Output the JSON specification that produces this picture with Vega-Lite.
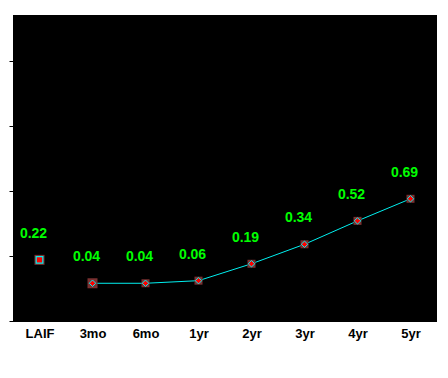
{
  "$schema": "https://vega.github.io/schema/vega-lite/v6.json",
  "width": 424,
  "height": 307,
  "autosize": {"type": "none"},
  "padding": {"left": 13, "top": 15, "right": 11, "bottom": 56},
  "background": "white",
  "config": {
    "view": {"fill": "black", "stroke": null},
    "font": "Liberation Sans"
  },
  "data": {
    "values": [
      {"tenor": "LAIF", "yield": 0.22, "series": "LAIF"},
      {"tenor": "3mo", "yield": 0.04, "series": "Treasury"},
      {"tenor": "6mo", "yield": 0.04, "series": "Treasury"},
      {"tenor": "1yr", "yield": 0.06, "series": "Treasury"},
      {"tenor": "2yr", "yield": 0.19, "series": "Treasury"},
      {"tenor": "3yr", "yield": 0.34, "series": "Treasury"},
      {"tenor": "4yr", "yield": 0.52, "series": "Treasury"},
      {"tenor": "5yr", "yield": 0.69, "series": "Treasury"}
    ]
  },
  "encoding": {
    "x": {
      "field": "tenor",
      "type": "ordinal",
      "sort": ["LAIF", "3mo", "6mo", "1yr", "2yr", "3yr", "4yr", "5yr"],
      "scale": {"type": "point", "padding": 0.5, "domain": ["LAIF", "3mo", "6mo", "1yr", "2yr", "3yr", "4yr", "5yr"]},
      "axis": {
        "title": null,
        "labelAngle": 0,
        "ticks": false,
        "domain": false,
        "grid": false,
        "labelFont": "Liberation Sans",
        "labelFontWeight": "bold",
        "labelFontSize": 13,
        "labelColor": "black",
        "labelPadding": 5
      }
    },
    "y": {
      "field": "yield",
      "type": "quantitative",
      "scale": {"domain": [-0.258, 2.104], "nice": false, "zero": false},
      "axis": {
        "title": null,
        "labels": false,
        "domain": false,
        "grid": false,
        "ticks": true,
        "tickSize": 4,
        "tickColor": "black",
        "tickWidth": 1,
        "values": [-0.25, 0.25, 0.75, 1.25, 1.75]
      }
    }
  },
  "layer": [
    {
      "transform": [{"filter": "datum.series == 'Treasury'"}],
      "mark": {"type": "line", "color": "#00f0f0", "strokeWidth": 1}
    },
    {
      "transform": [{"filter": "datum.tenor == '3mo' || datum.tenor == 'LAIF'"}],
      "mark": {"type": "square", "filled": true, "color": "#7a3030", "size": 100, "opacity": 1}
    },
    {
      "transform": [{"filter": "datum.series == 'Treasury' && datum.tenor != '3mo'"}],
      "mark": {"type": "square", "filled": true, "color": "#7a3030", "size": 64, "opacity": 1}
    },
    {
      "transform": [{"filter": "datum.series == 'Treasury'"}],
      "mark": {"type": "point", "shape": "diamond", "fill": "#ff0000", "stroke": "#00f0f0", "strokeWidth": 1, "size": 42, "opacity": 1, "fillOpacity": 1}
    },
    {
      "transform": [{"filter": "datum.series == 'LAIF'"}],
      "mark": {"type": "point", "shape": "square", "fill": "#ff0000", "stroke": "#00f0f0", "strokeWidth": 1.2, "size": 44, "opacity": 1, "fillOpacity": 1}
    },
    {
      "mark": {"type": "text", "color": "#00ff00", "font": "Liberation Sans", "fontWeight": "bold", "fontSize": 14, "baseline": "alphabetic", "align": "center", "dx": -6, "dy": -22},
      "encoding": {"text": {"field": "yield", "type": "quantitative", "format": ".2f"}}
    },
    {
      "data": {"values": [{"label": "Treasury Yield Curve"}]},
      "mark": {"type": "text", "color": "#00ff00", "font": "Liberation Sans", "fontWeight": "bold", "fontSize": 13, "baseline": "alphabetic", "align": "center", "dx": 8},
      "encoding": {
        "x": {"datum": "1yr"},
        "y": {"datum": 1.785},
        "text": {"field": "label", "type": "nominal"}
      }
    }
  ]
}
